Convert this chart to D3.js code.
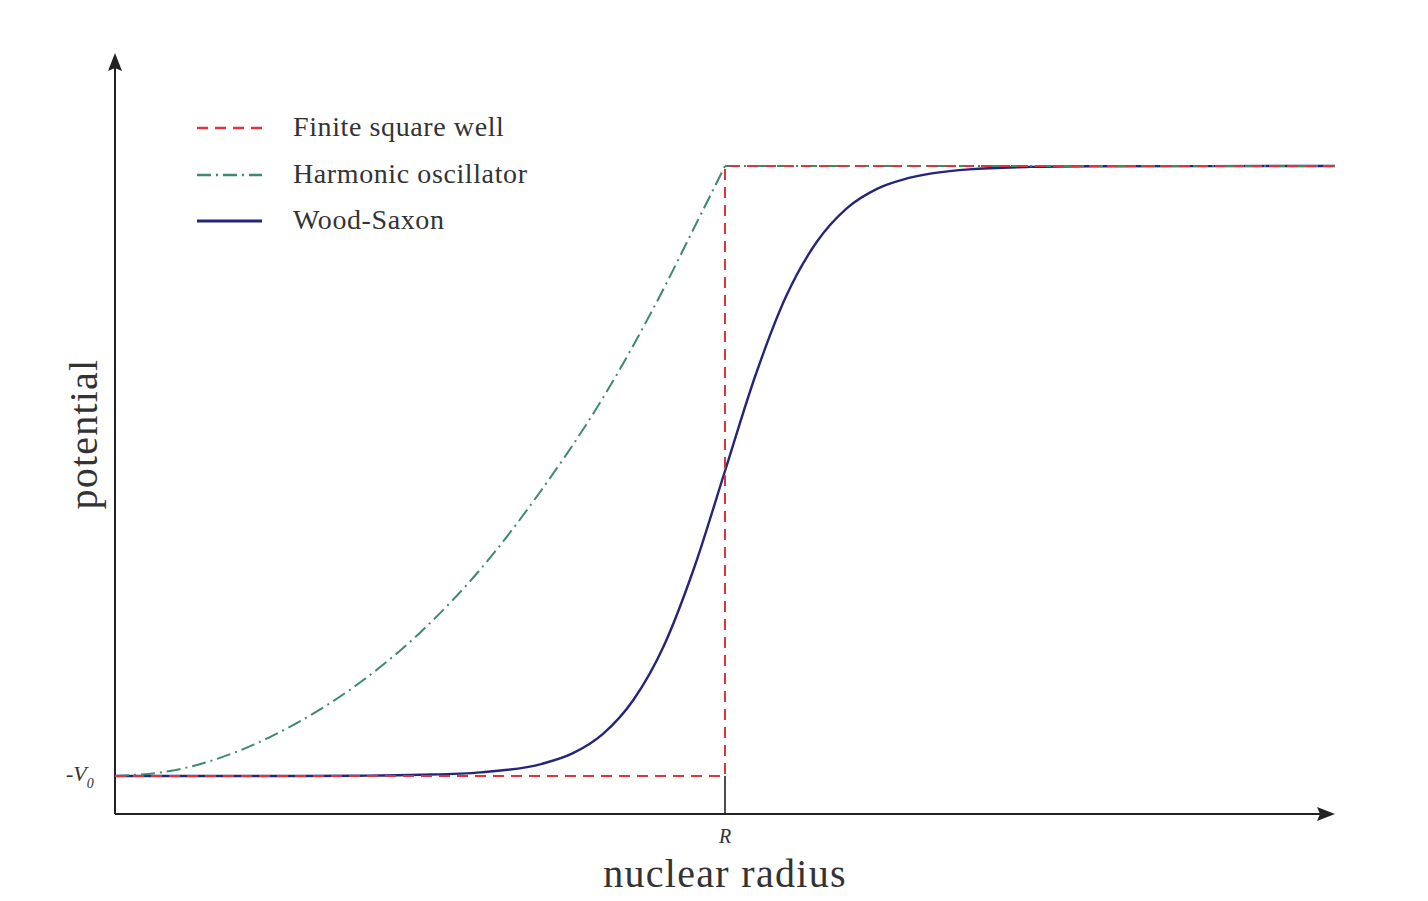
<!DOCTYPE html>
<html>
<head>
<meta charset="utf-8">
<script src="https://cdn.jsdelivr.net/npm/d3@7"></script>
<style>
  body { margin: 0; background: #fff; }
  svg { display: block; }
  text { font-family: "Liberation Serif", "DejaVu Serif", serif; fill: #333; }
</style>
</head>
<body>
<svg id="chart" width="1428" height="901"></svg>
<script>
/** Series names shown in the legend */
var seriesNames = ['Finite square well', 'Harmonic oscillator', 'Wood-Saxon'];

/** Finite square well: r / R (0..2), potential / V0 */
var squareX = [0, 1, 1, 2],
    squareV = [-1, -1, 0, 0];

/** Harmonic oscillator */
var harmonicX = [0, 0.1, 0.2, 0.3, 0.4, 0.5, 0.6, 0.7, 0.8, 0.9, 0.95, 1.0],
    harmonicV = [-1, -0.99, -0.96, -0.912, -0.848, -0.765, -0.66, -0.53, -0.38, -0.2, -0.1, 0];

/** Harmonic oscillator beyond R (flat) */
var harmonicTailX = [1.0, 2.0],
    harmonicTailV = [0, 0];

/** Wood-Saxon curve */
var saxonX = [0, 0.3, 0.4, 0.5, 0.6, 0.7, 0.75, 0.8, 0.85, 0.9, 0.95, 1.0, 1.05, 1.1, 1.15, 1.2, 1.25, 1.3, 1.4, 1.5, 1.6, 2.0],
    saxonV = [-1, -1, -0.9995, -0.998, -0.994, -0.98, -0.963, -0.931, -0.875, -0.786, -0.657, -0.5, -0.343, -0.214, -0.125, -0.069, -0.037, -0.02, -0.0055, -0.0015, -0.0004, 0];

/** Axis labels */
var xLabel = 'nuclear radius',
    yLabel = 'potential',
    xTickLabel = 'R',
    xTickValue = 1,
    yTickValue = -1;

var colors = ['#e0343c', '#3d8a6c', '#25267a'],
    dashes = ['11,7', '14,5,2,5', null],
    widths = [2, 2, 2.4];

var svg = d3.select('#chart');

// scales: 0..2 in units of R, -V0..0 for the potential
var x = d3.scaleLinear().domain([0, 2]).range([115, 1335]);
var y = d3.scaleLinear().domain([-1, 0]).range([776, 166]);

var axisY = 814,     // pixel row of the horizontal axis
    axisTop = 53;    // tip of the vertical arrow

function zipSeries(xs, vs) {
    return xs.map(function(d, i) { return { x: d, v: vs[i] }; });
}

// axes with arrow heads
var axes = svg.append('g').attr('stroke', '#222').attr('stroke-width', 2);
axes.append('line')
    .attr('x1', x(0)).attr('y1', axisY)
    .attr('x2', x(2) - 10).attr('y2', axisY);
axes.append('line')
    .attr('x1', x(0)).attr('y1', axisY)
    .attr('x2', x(0)).attr('y2', axisTop + 10);
svg.append('path')
    .attr('d', 'M' + x(2) + ',' + axisY + 'l-18,-7l3,7l-3,7z')
    .attr('fill', '#222');
svg.append('path')
    .attr('d', 'M' + x(0) + ',' + axisTop + 'l-7,18l7,-3l7,3z')
    .attr('fill', '#222');

// tick at R
svg.append('line')
    .attr('x1', x(xTickValue)).attr('x2', x(xTickValue))
    .attr('y1', y(yTickValue)).attr('y2', axisY)
    .attr('stroke', '#222').attr('stroke-width', 1.6);

// curves
var line = d3.line()
    .x(function(d) { return x(d.x); })
    .y(function(d) { return y(d.v); });
var smooth = d3.line()
    .x(function(d) { return x(d.x); })
    .y(function(d) { return y(d.v); })
    .curve(d3.curveMonotoneX);

function drawCurve(data, gen, i) {
    svg.append('path')
        .datum(data)
        .attr('d', gen)
        .attr('fill', 'none')
        .attr('stroke', colors[i])
        .attr('stroke-width', widths[i])
        .attr('stroke-dasharray', dashes[i]);
}

drawCurve(zipSeries(saxonX, saxonV), smooth, 2);
drawCurve(zipSeries(harmonicX, harmonicV), smooth, 1);
drawCurve(zipSeries(harmonicTailX, harmonicTailV), line, 1);
drawCurve(zipSeries(squareX, squareV), line, 0);

// legend
var legend = svg.append('g').attr('transform', 'translate(197,128)');
seriesNames.forEach(function(name, i) {
    var yy = [0, 47, 93][i];
    legend.append('line')
        .attr('x1', 0).attr('x2', 65)
        .attr('y1', yy).attr('y2', yy)
        .attr('stroke', colors[i])
        .attr('stroke-width', i === 2 ? 3 : 2.5)
        .attr('stroke-dasharray', dashes[i]);
    legend.append('text')
        .attr('x', 96).attr('y', yy + 8)
        .attr('font-size', 28)
        .attr('letter-spacing', 0.6)
        .text(name);
});

// tick labels
svg.append('text')
    .attr('x', x(xTickValue)).attr('y', 843)
    .attr('text-anchor', 'middle')
    .attr('font-size', 20)
    .attr('font-style', 'italic')
    .attr('fill', '#555')
    .text(xTickLabel);

var v0 = svg.append('text')
    .attr('x', 66).attr('y', y(yTickValue) + 5)
    .attr('font-size', 22)
    .attr('font-style', 'italic')
    .attr('fill', '#555');
v0.append('tspan').text('-V');
v0.append('tspan').attr('dy', 7).attr('font-size', 14).text('0');

// axis titles
svg.append('text')
    .attr('x', x(1)).attr('y', 887)
    .attr('text-anchor', 'middle')
    .attr('font-size', 40)
    .attr('letter-spacing', 1.3)
    .text(xLabel);

svg.append('text')
    .attr('transform', 'translate(97,434) rotate(-90)')
    .attr('text-anchor', 'middle')
    .attr('font-size', 40)
    .attr('letter-spacing', 1.2)
    .text(yLabel);
</script>
</body>
</html>
